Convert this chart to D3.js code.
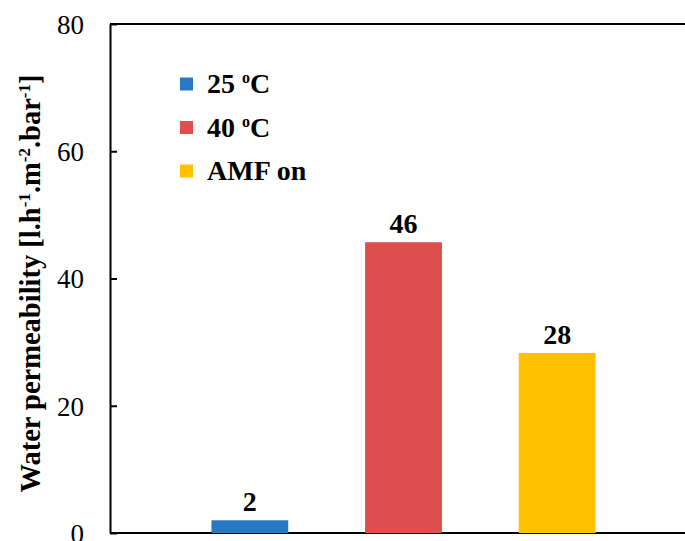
<!DOCTYPE html>
<html><head><meta charset="utf-8">
<script src="https://cdn.jsdelivr.net/npm/d3@7"></script>
<style>body{margin:0;background:#fff}svg{display:block}svg text{font-family:"Liberation Serif","DejaVu Serif",serif !important}</style>
</head><body><svg id="c" width="685" height="541"></svg>
<script>
const categories = ["25 \u00B0C", "40 \u00B0C", "AMF on"];
const values = [2, 45.7, 28.3];
const valueLabels = ["2", "46", "28"];
const colors = ["#2878c2", "#dd4f4c", "#ffc000"];
const yTicks = [0, 20, 40, 60, 80];

(function () {
const FF = "Liberation Serif, DejaVu Serif, serif";
const svg = d3.select("#c");
const mLeft = 110, mTop = 24, mBottom = 533, mRight = 697;
const y = d3.scaleLinear().domain([0, 80]).range([mBottom, mTop]);
const x = d3.scaleBand().domain(categories).range([mLeft, mRight]).paddingInner(0.5).paddingOuter(0.66);

// frame
svg.append("line").attr("x1", mLeft).attr("x2", mRight).attr("y1", mTop).attr("y2", mTop).attr("stroke", "#000").attr("stroke-width", 2);
svg.append("line").attr("x1", mLeft).attr("x2", mRight).attr("y1", mBottom).attr("y2", mBottom).attr("stroke", "#000").attr("stroke-width", 2);

// bars
svg.selectAll("rect.bar").data(values).enter().append("rect")
  .attr("x", (d, i) => x(categories[i]))
  .attr("width", x.bandwidth())
  .attr("y", d => y(d))
  .attr("height", d => mBottom - y(d))
  .attr("fill", (d, i) => colors[i]);

svg.selectAll("text.vl").data(values).enter().append("text")
  .attr("x", (d, i) => x(categories[i]) + x.bandwidth() / 2)
  .attr("y", d => y(d) - 9)
  .attr("text-anchor", "middle").attr("font-weight", "bold").attr("font-size", 28)
  .attr("font-family", FF)
  .text((d, i) => valueLabels[i]);

// y axis
const ax = svg.append("g").attr("transform", `translate(${mLeft},0)`)
  .call(d3.axisLeft(y).tickValues(yTicks).tickSize(-7).tickPadding(26).tickSizeOuter(0));
ax.attr("font-family", FF);
ax.select(".domain").attr("stroke-width", 2);
ax.selectAll(".tick line").attr("stroke-width", 2);
ax.selectAll(".tick text").attr("font-size", 27).attr("fill", "#000").attr("dy", "0.35em");

// y label
const yl = svg.append("text").attr("transform", `translate(40,${(mTop + mBottom) / 2 + 5}) rotate(-90)`)
  .attr("text-anchor", "middle").attr("font-weight", "bold").attr("font-size", 28.5).attr("font-family", FF);
yl.append("tspan").text("Water permeability [l.h");
yl.append("tspan").attr("dy", -10).attr("font-size", 17).text("-1");
yl.append("tspan").attr("dy", 10).text(".m");
yl.append("tspan").attr("dy", -10).attr("font-size", 17).text("-2");
yl.append("tspan").attr("dy", 10).text(".bar");
yl.append("tspan").attr("dy", -10).attr("font-size", 17).text("-1");
yl.append("tspan").attr("dy", 10).text("]");

// legend
const lg = svg.append("g");
categories.forEach((c, i) => {
  const cy = 84 + i * 43.5;
  lg.append("rect").attr("x", 180).attr("y", cy - 6.5).attr("width", 13).attr("height", 13).attr("fill", colors[i]);
  const t = lg.append("text").attr("x", 207).attr("y", cy + 9).attr("font-weight", "bold").attr("font-size", 28).attr("font-family", FF);
  if (c.includes("\u00B0")) {
    const parts = c.split(" \u00B0");
    t.append("tspan").text(parts[0] + " ");
    t.append("tspan").attr("dy", -10).attr("font-size", 16).text("o");
    t.append("tspan").attr("dy", 10).text(parts[1]);
  } else t.text(c);
});
})();
</script></body></html>
